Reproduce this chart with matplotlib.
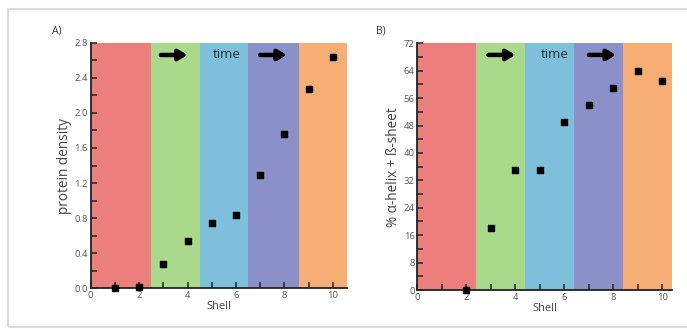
import matplotlib
matplotlib.use("Agg")
import matplotlib.pyplot as plt
from matplotlib.patches import Rectangle
from matplotlib.ticker import MultipleLocator, FormatStrFormatter

plt.rcParams['font.family'] = ['Open Sans', 'DejaVu Sans']

shell_a = [1, 2, 3, 4, 5, 6, 7, 8, 9, 10]
density = [0.0, 0.02, 0.28, 0.54, 0.75, 0.84, 1.29, 1.76, 2.27, 2.64]

shell_b = [2, 3, 4, 5, 6, 7, 8, 9, 10]
helix_sheet = [0, 18, 35, 35, 49, 54, 59, 64, 61]

band_colors = ['#EC7F7B', '#A9D98B', '#7EC0DB', '#8B91C8', '#F7AE74']
bands_a = [0, 2.5, 4.5, 6.5, 8.6, 10.6]
bands_b = [0, 2.4, 4.4, 6.4, 8.4, 10.4]

fig = plt.figure(figsize=(6.87, 3.29), dpi=100)
fig.patches.append(Rectangle((8/687, 2/329), 690/687, 318/329, transform=fig.transFigure,
                             fill=False, edgecolor='#dcdcdc', linewidth=1.5))

axA = fig.add_axes([0.132, 0.1237, 0.3735, 0.7465])
axB = fig.add_axes([0.6074, 0.1185, 0.3712, 0.750])


def style(ax, bands, ymax, ymajor, yminor, xs, ys, ylabel, label, label_x, arrow_y):
    for i in range(5):
        ax.axvspan(bands[i], bands[i + 1], color=band_colors[i], lw=0, zorder=0)
    ax.set_xlim(0, bands[-1])
    ax.set_ylim(0, ymax)
    ax.xaxis.set_major_locator(MultipleLocator(2))
    ax.xaxis.set_minor_locator(MultipleLocator(1))
    ax.yaxis.set_major_locator(MultipleLocator(ymajor))
    ax.yaxis.set_minor_locator(MultipleLocator(yminor))
    for s in ['top', 'right']:
        ax.spines[s].set_visible(False)
    for s in ['left', 'bottom']:
        ax.spines[s].set_linewidth(1.3)
        ax.spines[s].set_color('#222222')
        ax.spines[s].set_zorder(5)
    ax.tick_params(which='both', direction='in', color='#222222', labelsize=6.8,
                   labelcolor='#555555', width=1.1, pad=2)
    ax.tick_params(which='major', length=4)
    ax.tick_params(which='minor', length=4)
    ax.scatter(xs, ys, marker='s', s=18, color='black', zorder=6, clip_on=False)
    ax.set_xlabel('Shell', fontsize=8, color='#444444', labelpad=1)
    ax.set_ylabel(ylabel, fontsize=9.8, color='#444444', labelpad=2)
    ax.text(label_x, 1.049, label, transform=ax.transAxes, fontsize=7.5,
            color='#333333', ha='center', va='center')
    for x0, x1 in [(2.9, 4.0), (7.0, 8.1)]:
        ax.annotate('', xy=(x1, arrow_y), xytext=(x0, arrow_y),
                    arrowprops=dict(arrowstyle='-|>,head_length=0.5,head_width=0.3',
                                    color='black', lw=3.2, shrinkA=0, shrinkB=0))
    ax.text(5.6, arrow_y, 'time', fontsize=9.5, color='#1f2f3f', ha='center', va='center')


style(axA, bands_a, 2.8, 0.4, 0.2, shell_a, density, 'protein density', 'A)', -0.131, 2.66)
axA.yaxis.set_major_formatter(FormatStrFormatter('%.1f'))
style(axB, bands_b, 72, 8, 4, shell_b, helix_sheet, '% α-helix + ß-sheet', 'B)', -0.142, 68.6)

fig.savefig('out.png', dpi=100)
